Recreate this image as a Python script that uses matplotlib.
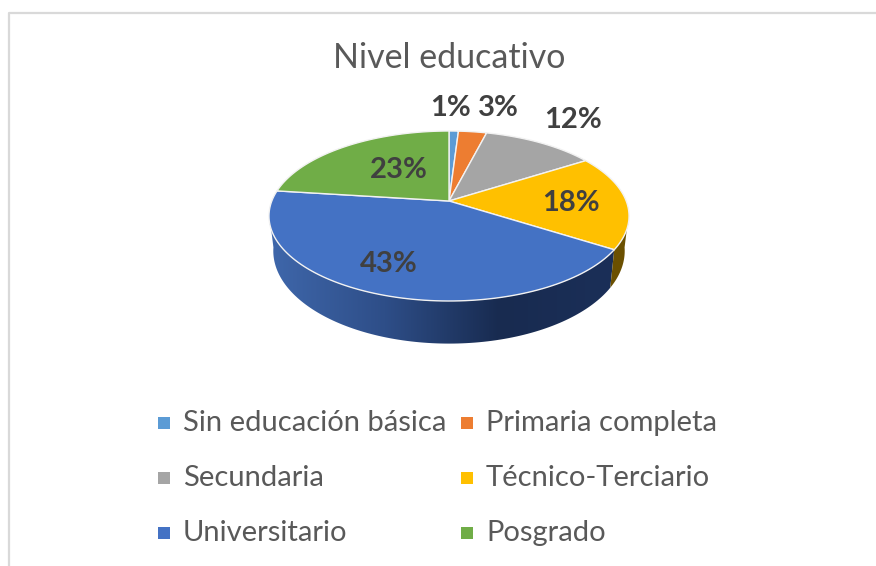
import numpy as np
import matplotlib
matplotlib.use('Agg')
import matplotlib.pyplot as plt
from matplotlib.patches import Polygon
from matplotlib.colors import LinearSegmentedColormap

categories = ['Sin educación básica', 'Primaria completa', 'Secundaria',
              'Técnico-Terciario', 'Universitario', 'Posgrado']
values = [1, 3, 12, 18, 43, 23]
labels = ['1%', '3%', '12%', '18%', '43%', '23%']
colors = ['#5B9BD5', '#ED7D31', '#A5A5A5', '#FFC000', '#4472C4', '#70AD47']
title = 'Nivel educativo'

# pixel positions for the text
label_x = [451, 498, 573, 571, 389, 399]
label_y = [108, 108, 120, 203, 264, 170]

# perspective of the pie top
cx, cy = 449, 201
a, b, k = 177.2, 82.35, 0.1765
# bottom rim
sx, sy, cy2 = 0.976, 1.09, 234.6


def rim(theta, bottom=False):
    t = np.radians(theta)
    d = 1 + k * np.cos(t)
    x = a * np.sin(t) / d
    y = -b * np.cos(t) / d
    if bottom:
        return cx + sx * x, cy2 + sy * y
    return cx + x, cy + y


def side_poly(t0, t1):
    th = np.linspace(t0, t1, 120)
    x1, y1 = rim(th)
    x2, y2 = rim(th[::-1], bottom=True)
    return np.column_stack([np.r_[x1, x2], np.r_[y1, y2]])


fig = plt.figure(figsize=(8.76, 5.66), dpi=100)
ax = fig.add_axes([0, 0, 1, 1])
ax.set_xlim(0, 876)
ax.set_ylim(566, 0)
ax.axis('off')

# chart frame, only top and left show
ax.plot([9, 9, 876], [566, 13, 13], color='#D9D9D9', lw=1.6, zorder=1)

edges = np.r_[0, np.cumsum(values)] * 3.6

# side of the pie: gradient blue, dark yellow sliver
blue = Polygon(side_poly(edges[4], 262), closed=True, fc='none', ec='none')
ax.add_patch(blue)
cmap = LinearSegmentedColormap.from_list('side', ['#3F67AB', '#2E4E88', '#182B50', '#1B2F58'],)
grad = np.linspace(0, 1, 256).reshape(1, -1)
im = ax.imshow(grad, extent=[269, 615, 345, 190], cmap=cmap, aspect='auto', zorder=2)
im.set_clip_path(blue)
ax.set_xlim(0, 876)
ax.set_ylim(566, 0)
ax.add_patch(Polygon(side_poly(98, edges[4]), closed=True, fc='#6B5000', ec='none', zorder=2))

# top slices
for i, v in enumerate(values):
    th = np.linspace(edges[i], edges[i + 1], 100)
    x, y = rim(th)
    pts = np.column_stack([np.r_[cx, x], np.r_[cy, y]])
    ax.add_patch(Polygon(pts, closed=True, fc=colors[i], ec='#F2F2F2', lw=1.0, zorder=3))

for i in range(len(labels)):
    ax.text(label_x[i], label_y[i], labels[i], family='Lato', weight='bold', fontsize=21,
            color='#404040', ha='center', va='center', zorder=4)

ax.text(449, 58, title, family='Lato', fontsize=24.5, color='#595959', ha='center', va='center')

# legend, two columns
col_x = [164, 467]
row_y = [423, 478, 533]
for i, c in enumerate(categories):
    col = i % 2
    row = i // 2
    ax.scatter([col_x[col]], [row_y[row]], marker='s', s=72, color=colors[i], linewidths=0, zorder=3)
    ax.text(col_x[col] + 19, row_y[row], c, family='Lato', fontsize=21, color='#595959',
            ha='left', va='center')

fig.savefig('out.png', dpi=100)
